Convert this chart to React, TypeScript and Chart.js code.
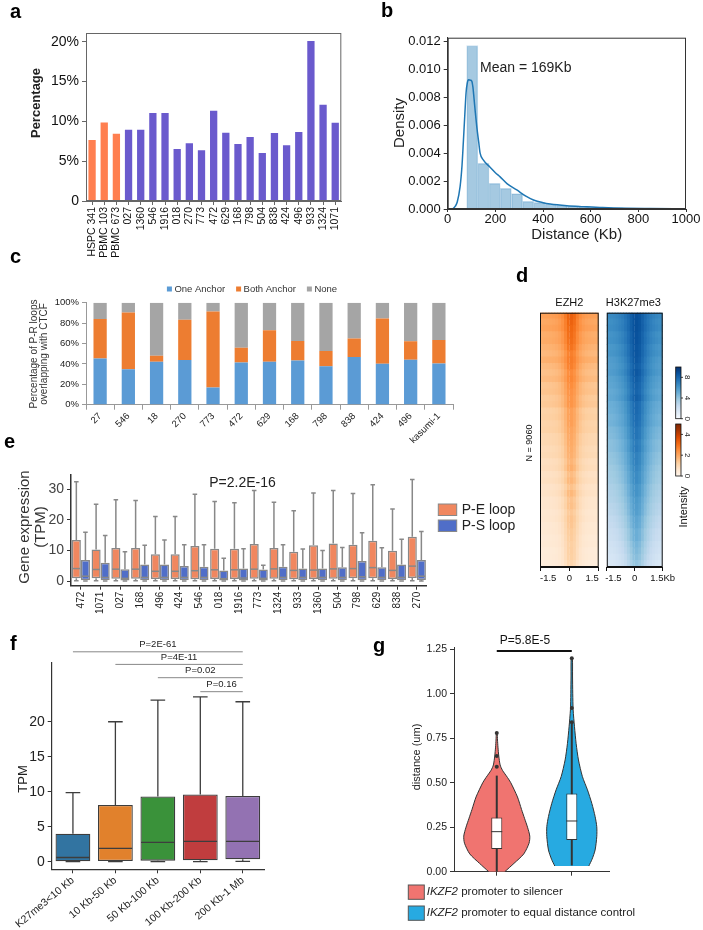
import React, { useEffect, useRef } from 'react';
import { Chart, registerables } from 'chart.js';

Chart.register(...registerables);

const FONT = 'Arial, "Liberation Sans", Helvetica, sans-serif';
Chart.defaults.font.family = FONT;

// ---------------- panel a ----------------
const aLabels = ['HSPC 341', 'PBMC 103', 'PBMC 673', '027', '1360', '546', '1916', '018', '270', '773', '472', '629', '168', '798', '504', '838', '424', '496', '933', '1324', '1071'];
const aPercent = [7.66, 9.87, 8.45, 8.95, 8.95, 11.05, 11.05, 6.53, 7.24, 6.36, 11.34, 8.58, 7.15, 8.03, 6.03, 8.54, 6.99, 8.66, 20.1, 12.09, 9.83];
const aGroup = ['normal', 'normal', 'normal', 'aml', 'aml', 'aml', 'aml', 'aml', 'aml', 'aml', 'aml', 'aml', 'aml', 'aml', 'aml', 'aml', 'aml', 'aml', 'aml', 'aml', 'aml'];

// ---------------- panel b ----------------
const bBinCenters = [103, 150, 197, 244, 291, 338, 385, 432, 479, 526, 573, 620, 667, 714, 761, 808, 855, 902, 949, 996];
const bDensity = [0.01169, 0.00327, 0.00184, 0.00148, 0.0011, 0.00055, 0.00047, 0.00036, 0.00028, 0.00022, 0.00017, 0.00013, 0.0001, 0.00008, 0.00006, 0.00005, 0.00004, 0.00003, 0.00002, 0.00002];
const bKdeX = [14, 24, 32, 40, 52, 60, 66, 72, 77, 82, 87, 95, 101, 106, 110, 116, 122, 130, 136, 150, 177, 200, 220, 250, 290, 330, 360, 400, 430, 500, 570, 650, 750, 850, 1000];
const bKdeY = [0, 0.00005, 0.0002, 0.0005, 0.0016, 0.0031, 0.0049, 0.0068, 0.0083, 0.009, 0.00925, 0.00922, 0.00916, 0.0087, 0.008, 0.0069, 0.0059, 0.0048, 0.004, 0.0035, 0.003, 0.0026, 0.0023, 0.0018, 0.00136, 0.0009, 0.00064, 0.00045, 0.00036, 0.00024, 0.00017, 0.0001, 0.00005, 0.00003, 0.00001];

// ---------------- panel c ----------------
const cLabels = ['27', '546', '18', '270', '773', '472', '629', '168', '798', '838', '424', '496', 'kasumi-1'];
const cOne = [45.2, 34.8, 42.1, 43.75, 16.8, 41.4, 42.1, 43.4, 37.8, 46.7, 40.1, 44.1, 40.5];
const cBoth = [38.7, 55.7, 5.9, 39.45, 74.6, 14.5, 30.9, 19.1, 14.8, 18.1, 44.4, 18.1, 23.0];
const cNone = [16.1, 9.5, 52.0, 16.8, 8.6, 44.1, 27.0, 37.5, 47.4, 35.2, 15.5, 37.8, 36.5];

// ---------------- panel d ----------------
const dBins = [-1.5, -1.35, -1.2, -1.05, -0.9, -0.75, -0.6, -0.45, -0.3, -0.15, 0, 0.15, 0.3, 0.45, 0.6, 0.75, 0.9, 1.05, 1.2, 1.35, 1.5];
const ezhProfile = [0.0, 0.02, 0.03, 0.05, 0.08, 0.12, 0.2, 0.35, 0.6, 0.92, 1.0, 0.85, 0.55, 0.32, 0.18, 0.1, 0.06, 0.04, 0.02, 0.01];
const ezhBg = [2.1, 1.95, 2.05, 1.85, 1.9, 1.75, 1.65, 1.8, 1.6, 1.5, 1.6, 1.4, 1.45, 1.3, 1.35, 1.15, 1.2, 1.1, 1.15, 1.0, 1.0, 0.9, 0.95, 0.8, 0.85, 0.72, 0.78, 0.66, 0.7, 0.6, 0.6, 0.54, 0.57, 0.48, 0.5, 0.42, 0.45, 0.36, 0.38, 0.3];
const ezhAmp = [1.2, 1.3, 1.1, 1.25, 1.15, 1.2, 1.1, 1.0, 1.15, 1.05, 1.0, 1.1, 0.95, 1.05, 1.0, 1.0, 0.95, 1.05, 0.9, 1.0, 0.95, 1.0, 0.9, 0.95, 1.0, 0.9, 0.95, 0.85, 1.0, 0.9, 0.95, 0.85, 0.9, 0.95, 0.85, 0.9, 0.8, 0.9, 0.85, 0.8];
const h3Profile = [0.04, 0.07, 0.1, 0.15, 0.22, 0.3, 0.42, 0.58, 0.76, 0.94, 1.0, 0.92, 0.74, 0.56, 0.41, 0.29, 0.2, 0.14, 0.09, 0.06];
const h3Bg = [6.4, 6.2, 6.3, 6.0, 6.1, 5.8, 5.9, 5.6, 5.5, 5.6, 5.3, 5.2, 5.0, 5.1, 4.8, 4.7, 4.5, 4.6, 4.3, 4.2, 4.0, 4.0, 3.8, 3.7, 3.5, 3.4, 3.3, 3.1, 3.0, 2.9, 2.7, 2.6, 2.4, 2.3, 2.1, 2.0, 1.8, 1.7, 1.5, 1.3];
const h3Amp = [2.4, 2.6, 2.5, 2.7, 2.6, 2.8, 2.7, 2.9, 2.8, 2.9, 3.0, 2.9, 3.0, 3.1, 3.0, 3.1, 3.2, 3.0, 3.1, 3.2, 3.1, 3.2, 3.1, 3.2, 3.2, 3.1, 3.2, 3.1, 3.2, 3.0, 3.1, 3.1, 3.0, 3.0, 2.9, 3.0, 2.9, 2.8, 2.8, 2.7];
const h3Ticks = [0, 4, 8];
const ezhTicks = [0, 2, 4];

// ---------------- panel e ----------------
const eLabels = ['472', '1071', '027', '168', '496', '424', '546', '018', '1916', '773', '1324', '933', '1360', '504', '798', '629', '838', '270'];
const peMin = [0.1, 0.1, 0.1, 0.1, 0.1, 0.1, 0.1, 0.1, 0.1, 0.1, 0.1, 0.1, 0.1, 0.1, 0.1, 0.1, 0.1, 0.1];
const peQ1 = [0.9, 0.9, 0.8, 0.8, 0.7, 0.7, 0.6, 0.7, 0.7, 0.8, 0.8, 0.6, 0.7, 0.8, 0.9, 0.9, 0.7, 1.0];
const peMed = [4.1, 3.8, 3.9, 3.9, 3.2, 3.2, 3.4, 3.7, 3.7, 3.9, 4.0, 3.5, 3.6, 4.0, 4.1, 4.4, 3.5, 4.9];
const peQ3 = [13.4, 10.3, 10.8, 10.8, 8.8, 8.8, 11.5, 10.6, 10.6, 12.1, 10.8, 9.6, 11.7, 12.3, 11.9, 13.2, 9.9, 14.5];
const peMax = [32.5, 25.1, 26.6, 26.3, 21.1, 21.1, 28.4, 26.0, 25.6, 29.6, 25.8, 23.0, 28.8, 29.6, 28.6, 31.5, 23.6, 33.2];
const psMin = [0, 0, 0, 0, 0, 0, 0, 0, 0, 0, 0, 0, 0, 0, 0, 0, 0, 0];
const psQ1 = [0.3, 0.3, 0.2, 0.3, 0.3, 0.3, 0.3, 0.2, 0.2, 0.2, 0.3, 0.3, 0.3, 0.3, 0.3, 0.3, 0.3, 0.4];
const psMed = [1.6, 1.2, 0.9, 1.2, 1.2, 1.2, 1.2, 0.8, 1.0, 0.9, 1.2, 1.2, 1.2, 1.2, 1.4, 1.2, 1.2, 1.6];
const psQ3 = [6.9, 6.0, 3.9, 5.4, 5.4, 4.9, 4.7, 3.5, 4.1, 3.8, 4.7, 4.1, 4.1, 4.5, 6.6, 4.5, 5.4, 6.9];
const psMax = [16.0, 14.9, 9.6, 11.7, 13.4, 11.9, 11.9, 7.5, 10.6, 5.2, 11.9, 10.5, 10.0, 11.0, 15.8, 10.9, 13.7, 16.2];

// ---------------- panel f ----------------
const fLabels = ['K27me3<10 Kb', '10 Kb-50 Kb', '50 Kb-100 Kb', '100 Kb-200 Kb', '200 Kb-1 Mb'];
const fColors = ['#3274A1', '#E1812C', '#3A923A', '#C03D3E', '#9372B2'];
const fMin = [0, 0, 0, 0, 0.05];
const fQ1 = [0.05, 0.1, 0.15, 0.2, 0.33];
const fMed = [0.6, 1.9, 2.76, 2.9, 2.9];
const fQ3 = [4.0, 8.1, 9.33, 9.6, 9.4];
const fMax = [9.86, 20.0, 23.1, 23.57, 22.86];
const fPairs = [[0, 4], [1, 4], [2, 4], [3, 4]];
const fPText = ['P=2E-61', 'P=4E-11', 'P=0.02', 'P=0.16'];
const fPLevel = [30.0, 28.2, 26.3, 24.3];

// ---------------- panel g ----------------
const gV1Y = [0, 0.047, 0.1, 0.16, 0.2, 0.25, 0.3, 0.35, 0.42, 0.5, 0.53, 0.57, 0.6, 0.65, 0.7, 0.74, 0.78];
const gV1W = [0.107, 0.23, 0.36, 0.43, 0.44, 0.41, 0.37, 0.33, 0.276, 0.187, 0.142, 0.076, 0.045, 0.027, 0.016, 0.01, 0.005];
const gV2Y = [0.032, 0.07, 0.122, 0.197, 0.253, 0.31, 0.384, 0.46, 0.534, 0.628, 0.72, 0.815, 0.91, 1.0, 1.1, 1.2];
const gV2W = [0.227, 0.27, 0.311, 0.333, 0.333, 0.311, 0.267, 0.209, 0.142, 0.089, 0.058, 0.036, 0.018, 0.013, 0.01, 0.008];
const gLo = [0.0, 0.035];
const gQ1 = [0.127, 0.178];
const gMed = [0.225, 0.285];
const gQ3 = [0.304, 0.44];
const gHi = [0.54, 0.834];
const gOut1 = [0.59, 0.65, 0.78];
const gOut2 = [0.84, 0.92, 1.2];
const gColors = ['#F07470', '#27AAE1'];
const gLegend = [' promoter to silencer', ' promoter to equal distance control'];

// ---------------- helpers ----------------
type Frame = { L: number; T: number; W: number; H: number; left: number; top: number; right: number; bottom: number };

const padOf = (f: Frame, leftPad = 0) => ({ top: f.top - f.T, right: f.L + f.W - f.right, left: leftPad, bottom: 0 });
const fitY = (f: Frame) => (s: any) => { s.width = f.left - f.L; };
const fitX = (f: Frame) => (s: any) => { s.height = f.T + f.H - f.bottom; };

const base = (f: Frame, leftPad = 0): any => ({
  responsive: false,
  maintainAspectRatio: false,
  animation: false,
  devicePixelRatio: 1,
  events: [],
  layout: { padding: padOf(f, leftPad) },
  plugins: { legend: { display: false }, tooltip: { enabled: false }, title: { display: false } },
});

type TO = { weight?: string; color?: string; align?: CanvasTextAlign; baseline?: CanvasTextBaseline; rot?: number; italic?: boolean };
function drawText(ctx: CanvasRenderingContext2D, f: Frame, s: string, x: number, y: number, size: number, o: TO = {}) {
  ctx.save();
  ctx.font = `${o.italic ? 'italic ' : ''}${o.weight || 'normal'} ${size}px ${FONT}`;
  ctx.fillStyle = o.color || '#222';
  ctx.textAlign = o.align || 'center';
  ctx.textBaseline = o.baseline || 'middle';
  ctx.translate(x - f.L, y - f.T);
  if (o.rot) ctx.rotate(o.rot);
  ctx.fillText(s, 0, 0);
  ctx.restore();
}

function strokeArea(chart: any, color: string, lw: number) {
  const a = chart.chartArea;
  const ctx = chart.ctx;
  ctx.save();
  ctx.strokeStyle = color;
  ctx.lineWidth = lw;
  ctx.strokeRect(a.left + 0.5, a.top + 0.5, a.right - a.left - 1, a.bottom - a.top - 1);
  ctx.restore();
}

function hexRgb(h: string) {
  const n = parseInt(h.slice(1), 16);
  return [(n >> 16) & 255, (n >> 8) & 255, n & 255];
}
const ORANGES = ['#fff5eb', '#fee6ce', '#fdd0a2', '#fdae6b', '#fd8d3c', '#f16913', '#d94801', '#a63603', '#7f2704'];
const BLUES = ['#f7fbff', '#deebf7', '#c6dbef', '#9ecae1', '#6baed6', '#4292c6', '#2171b5', '#08519c', '#08306b'];
function cmap(stops: string[], t: number) {
  const tt = Math.max(0, Math.min(1, t));
  const p = tt * (stops.length - 1);
  const i = Math.min(Math.floor(p), stops.length - 2);
  const fr = p - i;
  const a = hexRgb(stops[i]);
  const b = hexRgb(stops[i + 1]);
  const c = a.map((v, k) => Math.round(v + (b[k] - v) * fr));
  return `rgb(${c[0]},${c[1]},${c[2]})`;
}

type Stats = { min: number[]; q1: number[]; med: number[]; q3: number[]; max: number[] };
function whiskerPlugin(stats: Stats[], color: string, lw: number, capRatio: number, medColor: string) {
  return {
    id: 'whiskers',
    afterDatasetsDraw(chart: any) {
      const ctx = chart.ctx;
      const ys = chart.scales.y;
      const px = (v: number) => ys.getPixelForValue(v);
      stats.forEach((st, di) => {
        const meta = chart.getDatasetMeta(di);
        meta.data.forEach((el: any, j: number) => {
          const x = el.x;
          const w = el.width;
          const cap = (w * capRatio) / 2;
          ctx.save();
          ctx.strokeStyle = color;
          ctx.lineWidth = lw;
          ctx.beginPath();
          ctx.moveTo(x, px(st.q3[j]));
          ctx.lineTo(x, px(st.max[j]));
          ctx.moveTo(x - cap, px(st.max[j]));
          ctx.lineTo(x + cap, px(st.max[j]));
          ctx.moveTo(x, px(st.q1[j]));
          ctx.lineTo(x, px(st.min[j]));
          ctx.moveTo(x - cap, px(st.min[j]));
          ctx.lineTo(x + cap, px(st.min[j]));
          ctx.stroke();
          ctx.strokeStyle = medColor;
          ctx.beginPath();
          ctx.moveTo(x - w / 2 + lw / 2, px(st.med[j]));
          ctx.lineTo(x + w / 2 - lw / 2, px(st.med[j]));
          ctx.stroke();
          ctx.restore();
        });
      });
    },
  };
}

const tickFont = (size: number) => ({ family: FONT, size });

// ---------------- frames ----------------
const FA: Frame = { L: 0, T: 0, W: 350, H: 268, left: 86, top: 33, right: 343, bottom: 201 };
const FB: Frame = { L: 360, T: 0, W: 343, H: 245, left: 447.7, top: 37.7, right: 686, bottom: 209 };
const FC: Frame = { L: 0, T: 280, W: 510, H: 164, left: 86, top: 302.7, right: 453, bottom: 404.7 };
const FD1: Frame = { L: 500, T: 284, W: 115, H: 308, left: 540, top: 312.7, right: 598.7, bottom: 567 };
const FD2: Frame = { L: 590, T: 284, W: 113, H: 308, left: 604, top: 312.7, right: 662.7, bottom: 567 };
const FE: Frame = { L: 0, T: 448, W: 520, H: 172, left: 71, top: 474.3, right: 426.7, bottom: 585.7 };
const FF: Frame = { L: 0, T: 625, W: 290, H: 305, left: 51.7, top: 663, right: 264, bottom: 869.3 };
const FG: Frame = { L: 390, T: 625, W: 313, H: 305, left: 454, top: 647.7, right: 609.3, bottom: 871.7 };

// ---------------- chart configs ----------------
function makeA(): any {
  const f = FA;
  return {
    type: 'bar',
    data: {
      labels: aLabels,
      datasets: [{ label: 'Percentage', data: aPercent, backgroundColor: aGroup.map((g) => (g === 'normal' ? '#FF7F50' : '#6A5ACD')), barPercentage: 0.6, categoryPercentage: 1 }],
    },
    options: {
      ...base(f),
      scales: {
        x: {
          ticks: { font: tickFont(10.5), color: '#111', minRotation: 90, maxRotation: 90, autoSkip: false, padding: 2 },
          grid: { drawOnChartArea: false, offset: false, tickLength: 4, color: '#666' },
          border: { color: '#666' },
          afterFit: fitX(f),
        },
        y: {
          min: 0, max: 21.1,
          ticks: { stepSize: 5, includeBounds: false, font: tickFont(14), color: '#111', callback: (v: number) => (v === 0 ? '0' : v + '%') },
          grid: { drawOnChartArea: false, tickLength: 4, color: '#666' },
          border: { color: '#666' },
          afterFit: fitY(f),
        },
      },
    },
    plugins: [{
      id: 'decoA',
      afterDraw(chart: any) {
        strokeArea(chart, '#666', 1);
        drawText(chart.ctx, f, 'Percentage', 36.7, 103, 13, { weight: 'bold', rot: -Math.PI / 2 });
      },
    }],
  };
}

function makeB(): any {
  const f = FB;
  return {
    type: 'bar',
    data: {
      datasets: [
        { type: 'line', label: 'KDE', data: bKdeX.map((x, i) => ({ x, y: bKdeY[i] })), borderColor: '#1f77b4', borderWidth: 1.5, pointRadius: 0, cubicInterpolationMode: 'monotone', fill: false, order: 0 },
        { type: 'bar', label: 'Histogram', data: bBinCenters.map((x, i) => ({ x, y: bDensity[i] })), backgroundColor: 'rgba(31,119,180,0.4)', borderColor: 'rgba(31,119,180,0.22)', borderWidth: 0.8, barPercentage: 1, categoryPercentage: 1, order: 1 },
      ],
    },
    options: {
      ...base(f),
      scales: {
        x: {
          type: 'linear', min: 0, max: 1000, offset: false,
          ticks: { stepSize: 200, font: tickFont(13), color: '#111', padding: 0, maxRotation: 0, callback: (v: number) => String(v) },
          grid: { drawOnChartArea: false, offset: false, tickLength: 3, color: '#333' },
          border: { color: '#333' },
          afterFit: fitX(f),
        },
        y: {
          min: 0, max: 0.01226,
          ticks: { stepSize: 0.002, includeBounds: false, font: tickFont(13), color: '#111', callback: (v: number) => Number(v).toFixed(3) },
          grid: { drawOnChartArea: false, tickLength: 4, color: '#333' },
          border: { color: '#333' },
          afterFit: fitY(f),
        },
      },
    },
    plugins: [{
      id: 'decoB',
      afterDraw(chart: any) {
        const ctx = chart.ctx;
        strokeArea(chart, '#333', 1);
        drawText(ctx, f, 'Density', 400, 123, 15, { rot: -Math.PI / 2 });
        drawText(ctx, f, 'Distance (Kb)', 576.7, 235, 15);
        drawText(ctx, f, 'Mean = 169Kb', 480, 68, 14, { align: 'left' });
      },
    }],
  };
}

function makeC(): any {
  const f = FC;
  const common = { barPercentage: 0.47, categoryPercentage: 1 };
  return {
    type: 'bar',
    data: {
      labels: cLabels,
      datasets: [
        { label: 'One Anchor', data: cOne, backgroundColor: '#5B9BD5', ...common },
        { label: 'Both Anchor', data: cBoth, backgroundColor: '#ED7D31', ...common },
        { label: 'None', data: cNone, backgroundColor: '#A5A5A5', ...common },
      ],
    },
    options: {
      ...base(f),
      scales: {
        x: {
          stacked: true,
          ticks: { font: tickFont(9.5), color: '#222', minRotation: 45, maxRotation: 45, autoSkip: false, padding: 1 },
          grid: { drawOnChartArea: false, offset: true, tickLength: 5, color: '#999' },
          border: { color: '#999' },
          afterFit: fitX(f),
        },
        y: {
          stacked: true, min: 0, max: 100,
          ticks: { stepSize: 20, font: tickFont(9.5), color: '#222', callback: (v: number) => v + '%' },
          grid: { drawOnChartArea: false, tickLength: 4, color: '#999' },
          border: { color: '#999' },
          afterFit: fitY(f),
        },
      },
    },
    plugins: [{
      id: 'decoC',
      afterDraw(chart: any) {
        const ctx = chart.ctx;
        ctx.save();
        ctx.font = `9.5px ${FONT}`;
        const box = 5, gap = 2.5, spacing = 11;
        const items = chart.data.datasets.map((d: any) => ({ label: d.label, color: d.backgroundColor }));
        const widths = items.map((it: any) => box + gap + ctx.measureText(it.label).width);
        const total = widths.reduce((a: number, b: number) => a + b, 0) + spacing * (items.length - 1);
        let x = 252 - total / 2 - f.L;
        const y = 289 - f.T;
        items.forEach((it: any, i: number) => {
          ctx.fillStyle = it.color;
          ctx.fillRect(x, y - box / 2, box, box);
          ctx.fillStyle = '#333';
          ctx.textAlign = 'left';
          ctx.textBaseline = 'middle';
          ctx.fillText(it.label, x + box + gap, y);
          x += widths[i] + spacing;
        });
        ctx.restore();
        drawText(ctx, f, 'Percentage of P-R loops', 34, 354, 10, { rot: -Math.PI / 2, color: '#333' });
        drawText(ctx, f, 'overlapping with CTCF', 44.5, 354, 10, { rot: -Math.PI / 2, color: '#333' });
      },
    }],
  };
}

function colorbar(ctx: CanvasRenderingContext2D, f: Frame, x: number, y: number, w: number, h: number, stops: string[], vmax: number, ticks: number[]) {
  ctx.save();
  const g = ctx.createLinearGradient(0, y + h - f.T, 0, y - f.T);
  stops.forEach((s, i) => g.addColorStop(i / (stops.length - 1), s));
  ctx.fillStyle = g;
  ctx.fillRect(x - f.L, y - f.T, w, h);
  ctx.strokeStyle = '#111';
  ctx.lineWidth = 0.8;
  ctx.strokeRect(x - f.L, y - f.T, w, h);
  ticks.forEach((t) => {
    const ty = y + h - (t / vmax) * h - f.T;
    ctx.beginPath();
    ctx.moveTo(x + w - f.L, ty);
    ctx.lineTo(x + w + 2 - f.L, ty);
    ctx.stroke();
  });
  ctx.restore();
  ticks.forEach((t) => {
    const ty = y + h - (t / vmax) * h;
    drawText(ctx, f, String(t), x + w + 6, ty, 8, { rot: Math.PI / 2, color: '#222' });
  });
}

function makeHeat(f: Frame, bg: number[], amp: number[], prof: number[], stops: string[], vmax: number, title: string, tickLabel: (v: number) => string, align: string, extra: (ctx: CanvasRenderingContext2D) => void): any {
  const rows = bg.map((_, r) => String(r));
  const datasets = prof.map((p, c) => ({
    label: 'bin' + c,
    data: rows.map(() => [dBins[c], dBins[c + 1]]),
    backgroundColor: rows.map((_, r) => cmap(stops, (bg[r] + amp[r] * p) / vmax)),
    barPercentage: 1,
    categoryPercentage: 1,
    grouped: false,
    borderWidth: 0,
    inflateAmount: 0.6,
  }));
  return {
    type: 'bar',
    data: { labels: rows, datasets },
    options: {
      ...base(f, f.left - f.L),
      indexAxis: 'y',
      scales: {
        y: { display: false, offset: true },
        x: {
          type: 'linear', min: -1.5, max: 1.5, offset: false,
          ticks: { stepSize: 1.5, includeBounds: false, autoSkip: false, font: tickFont(9.5), color: '#111', padding: 2, maxRotation: 0, align, callback: tickLabel },
          grid: { drawOnChartArea: false, offset: false, tickLength: 4, color: '#111' },
          border: { color: '#111' },
          afterFit: fitX(f),
        },
      },
    },
    plugins: [{
      id: 'decoHeat',
      afterDraw(chart: any) {
        strokeArea(chart, '#111', 1);
        drawText(chart.ctx, f, title, (f.left + f.right) / 2, 302.7, 11, { color: '#111' });
        extra(chart.ctx);
      },
    }],
  };
}

function makeD1(): any {
  const f = FD1;
  return makeHeat(f, ezhBg, ezhAmp, ezhProfile, ORANGES, 5, 'EZH2', (v: number) => String(v), 'inner', (ctx) => {
    drawText(ctx, f, 'N = 9060', 530, 443, 9, { rot: -Math.PI / 2, color: '#111' });
  });
}

function makeD2(): any {
  const f = FD2;
  return makeHeat(f, h3Bg, h3Amp, h3Profile, BLUES, 10, 'H3K27me3', (v: number) => (v === 1.5 ? '1.5Kb' : v === -1.5 ? '     -1.5' : String(v)), 'center', (ctx) => {
    colorbar(ctx, f, 675.7, 367, 5.3, 51.7, BLUES, 10, h3Ticks);
    colorbar(ctx, f, 675.7, 424, 5.3, 52, ORANGES, 5, ezhTicks);
    drawText(ctx, f, 'Intensity', 683.5, 507, 11, { rot: -Math.PI / 2, color: '#111' });
  });
}

function makeE(): any {
  const f = FE;
  const common = { borderColor: '#888888', borderWidth: 1.5, borderSkipped: false, barPercentage: 1, categoryPercentage: 0.92 };
  return {
    type: 'bar',
    data: {
      labels: eLabels,
      datasets: [
        { label: 'P-E loop', data: peQ1.map((q, i) => [q, peQ3[i]]), backgroundColor: '#F0875F', ...common },
        { label: 'P-S loop', data: psQ1.map((q, i) => [q, psQ3[i]]), backgroundColor: '#506EC8', ...common },
      ],
    },
    options: {
      ...base(f),
      scales: {
        x: {
          ticks: { font: tickFont(10), color: '#222', minRotation: 90, maxRotation: 90, autoSkip: false, padding: 2 },
          grid: { drawOnChartArea: false, offset: false, tickLength: 4, color: '#333' },
          border: { color: '#333', width: 1.5 },
          afterFit: fitX(f),
        },
        y: {
          min: -1.5, max: 34.9,
          ticks: { stepSize: 10, includeBounds: false, font: tickFont(14), color: '#444' },
          grid: { drawOnChartArea: false, tickLength: 4, color: '#333' },
          border: { color: '#333', width: 1.5 },
          afterFit: fitY(f),
        },
      },
    },
    plugins: [
      whiskerPlugin([
        { min: peMin, q1: peQ1, med: peMed, q3: peQ3, max: peMax },
        { min: psMin, q1: psQ1, med: psMed, q3: psQ3, max: psMax },
      ], '#888888', 1.5, 0.5, '#888888'),
      {
        id: 'decoE',
        afterDraw(chart: any) {
          const ctx = chart.ctx;
          drawText(ctx, f, 'Gene expression', 25, 527, 15, { rot: -Math.PI / 2, color: '#333' });
          drawText(ctx, f, '(TPM)', 41, 527, 15, { rot: -Math.PI / 2, color: '#333' });
          drawText(ctx, f, 'P=2.2E-16', 242.5, 482.7, 14, { color: '#222' });
          chart.data.datasets.forEach((d: any, i: number) => {
            const py = 504 + i * 16;
            ctx.save();
            ctx.fillStyle = d.backgroundColor;
            ctx.strokeStyle = '#888';
            ctx.lineWidth = 1;
            ctx.fillRect(438.3 - f.L, py - f.T, 18.4, 11.5);
            ctx.strokeRect(438.3 - f.L, py - f.T, 18.4, 11.5);
            ctx.restore();
            drawText(ctx, f, d.label, 461.7, py + 6, 14, { align: 'left', color: '#222' });
          });
        },
      },
    ],
  };
}

function makeF(): any {
  const f = FF;
  return {
    type: 'bar',
    data: {
      labels: fLabels,
      datasets: [{ label: 'TPM', data: fQ1.map((q, i) => [q, fQ3[i]]), backgroundColor: fColors, borderColor: '#3d3d3d', borderWidth: 1.3, borderSkipped: false, barPercentage: 0.82, categoryPercentage: 1 }],
    },
    options: {
      ...base(f),
      scales: {
        x: {
          ticks: { font: tickFont(10.5), color: '#222', minRotation: 40, maxRotation: 40, autoSkip: false, padding: 1 },
          grid: { drawOnChartArea: false, offset: false, tickLength: 4, color: '#333' },
          border: { color: '#333', width: 1.2 },
          afterFit: fitX(f),
        },
        y: {
          min: -1.09, max: 28.4,
          afterBuildTicks: (s: any) => { s.ticks = s.ticks.filter((t: any) => t.value <= 20); },
          ticks: { stepSize: 5, includeBounds: false, font: tickFont(14), color: '#222' },
          grid: { drawOnChartArea: false, tickLength: 4, color: '#333' },
          border: { color: '#333', width: 1.2 },
          afterFit: fitY(f),
        },
      },
    },
    plugins: [
      whiskerPlugin([{ min: fMin, q1: fQ1, med: fMed, q3: fQ3, max: fMax }], '#3d3d3d', 1.3, 0.42, '#3d3d3d'),
      {
        id: 'decoF',
        afterDraw(chart: any) {
          const ctx = chart.ctx;
          const xs = chart.scales.x;
          const ys = chart.scales.y;
          drawText(ctx, f, 'TPM', 23.3, 779, 13, { rot: -Math.PI / 2, color: '#222' });
          fPairs.forEach((p, i) => {
            const x0 = xs.getPixelForValue(p[0]);
            const x1 = xs.getPixelForValue(p[1]);
            const y = ys.getPixelForValue(fPLevel[i]);
            ctx.save();
            ctx.strokeStyle = '#888';
            ctx.lineWidth = 1;
            ctx.beginPath();
            ctx.moveTo(x0, y);
            ctx.lineTo(x1, y);
            ctx.stroke();
            ctx.restore();
            drawText(ctx, f, fPText[i], (x0 + x1) / 2 + f.L, y - 7 + f.T, 9.5, { color: '#222' });
          });
        },
      },
    ],
  };
}

function violinOutline(center: number, ys: number[], ws: number[]) {
  const left = ys.map((y, i) => ({ x: center - ws[i], y }));
  const right = ys.map((y, i) => ({ x: center + ws[i], y })).reverse();
  return [...left, ...right];
}

function makeG(): any {
  const f = FG;
  return {
    type: 'bar',
    data: {
      datasets: [
        { type: 'line', label: 'silencer', data: violinOutline(0, gV1Y, gV1W), fill: 'shape', backgroundColor: gColors[0], borderColor: '#333', borderWidth: 1, pointRadius: 0, tension: 0.25, order: 3 },
        { type: 'line', label: 'control', data: violinOutline(1, gV2Y, gV2W), fill: 'shape', backgroundColor: gColors[1], borderColor: '#333', borderWidth: 1, pointRadius: 0, tension: 0.25, order: 3 },
        { type: 'bar', label: 'box', data: gQ1.map((q, i) => ({ x: i, y: [q, gQ3[i]] })), backgroundColor: '#ffffff', borderColor: '#333', borderWidth: 1, borderSkipped: false, barPercentage: 0.147, categoryPercentage: 1, order: 1 },
        { type: 'line', label: 'outliers', data: [...gOut1.map((v) => ({ x: 0, y: v })), ...gOut2.map((v) => ({ x: 1, y: v }))], showLine: false, pointRadius: 2, pointBackgroundColor: '#333', pointBorderWidth: 0, order: 0 },
      ],
    },
    options: {
      ...base(f),
      scales: {
        x: {
          type: 'linear', min: -0.57, max: 1.5, offset: false,
          afterBuildTicks: (s: any) => { s.ticks = [{ value: 0 }, { value: 1 }]; },
          ticks: { display: false },
          grid: { drawOnChartArea: false, offset: false, tickLength: 4, color: '#333' },
          border: { color: '#333' },
          afterFit: fitX(f),
        },
        y: {
          min: 0, max: 1.259,
          ticks: { stepSize: 0.25, includeBounds: false, font: tickFont(10.5), color: '#222', callback: (v: number) => Number(v).toFixed(2) },
          grid: { drawOnChartArea: false, tickLength: 4, color: '#333' },
          border: { color: '#333' },
          afterFit: fitY(f),
        },
      },
    },
    plugins: [{
      id: 'decoG',
      afterDatasetDraw(chart: any, args: any) {
        if (args.index > 1) return;
        const ctx = chart.ctx;
        const xs = chart.scales.x;
        const ys = chart.scales.y;
        const i = args.index;
        const x = xs.getPixelForValue(i);
        ctx.save();
        ctx.strokeStyle = '#333';
        ctx.lineWidth = 2;
        ctx.beginPath();
        ctx.moveTo(x, ys.getPixelForValue(gLo[i]));
        ctx.lineTo(x, ys.getPixelForValue(gHi[i]));
        ctx.stroke();
        ctx.restore();
      },
      afterDraw(chart: any) {
        const ctx = chart.ctx;
        const xs = chart.scales.x;
        const ys = chart.scales.y;
        const meta = chart.getDatasetMeta(2);
        meta.data.forEach((el: any, i: number) => {
          const y = ys.getPixelForValue(gMed[i]);
          ctx.save();
          ctx.strokeStyle = '#333';
          ctx.lineWidth = 1;
          ctx.beginPath();
          ctx.moveTo(el.x - el.width / 2, y);
          ctx.lineTo(el.x + el.width / 2, y);
          ctx.stroke();
          ctx.restore();
        });
        const y = ys.getPixelForValue(1.24);
        ctx.save();
        ctx.strokeStyle = '#111';
        ctx.lineWidth = 2;
        ctx.beginPath();
        ctx.moveTo(xs.getPixelForValue(0), y);
        ctx.lineTo(xs.getPixelForValue(1), y);
        ctx.stroke();
        ctx.restore();
        drawText(ctx, f, 'P=5.8E-5', 525, 640.7, 12, { color: '#111' });
        drawText(ctx, f, 'distance (um)', 417, 757, 11, { rot: -Math.PI / 2, color: '#222' });
        gLegend.forEach((s, i) => {
          const py = 885 + i * 21;
          ctx.save();
          ctx.fillStyle = gColors[i];
          ctx.strokeStyle = '#555';
          ctx.lineWidth = 1;
          ctx.fillRect(408.3 - f.L, py - f.T, 16, 14.3);
          ctx.strokeRect(408.3 - f.L, py - f.T, 16, 14.3);
          ctx.font = `italic 11.5px ${FONT}`;
          const w = ctx.measureText('IKZF2').width;
          ctx.restore();
          drawText(ctx, f, 'IKZF2', 426.7, py + 7, 11.5, { italic: true, align: 'left', color: '#222' });
          drawText(ctx, f, s, 426.7 + w, py + 7, 11.5, { align: 'left', color: '#222' });
        });
      },
    }],
  };
}

// ---------------- components ----------------
function ChartCanvas({ f, make }: { f: Frame; make: () => any }) {
  const ref = useRef<HTMLCanvasElement>(null);
  useEffect(() => {
    const chart = new Chart(ref.current as HTMLCanvasElement, make());
    return () => chart.destroy();
  }, []);
  return <canvas ref={ref} width={f.W} height={f.H} style={{ position: 'absolute', left: f.L, top: f.T, width: f.W, height: f.H }} />;
}

const panelLetters = [
  { t: 'a', x: 10, y: 1 },
  { t: 'b', x: 381, y: 0 },
  { t: 'c', x: 10, y: 246 },
  { t: 'd', x: 516, y: 265 },
  { t: 'e', x: 4, y: 431 },
  { t: 'f', x: 10, y: 633 },
  { t: 'g', x: 373, y: 635 },
];

export default function App() {
  return (
    <div style={{ position: 'absolute', left: 0, top: 0, width: 703, height: 930, background: '#fff', overflow: 'hidden', fontFamily: FONT }}>
      <ChartCanvas f={FA} make={makeA} />
      <ChartCanvas f={FB} make={makeB} />
      <ChartCanvas f={FC} make={makeC} />
      <ChartCanvas f={FD1} make={makeD1} />
      <ChartCanvas f={FD2} make={makeD2} />
      <ChartCanvas f={FE} make={makeE} />
      <ChartCanvas f={FF} make={makeF} />
      <ChartCanvas f={FG} make={makeG} />
      {panelLetters.map((p) => (
        <div key={p.t} style={{ position: 'absolute', left: p.x, top: p.y, fontSize: 20, lineHeight: 1, fontWeight: 'bold', color: '#000' }}>{p.t}</div>
      ))}
    </div>
  );
}
